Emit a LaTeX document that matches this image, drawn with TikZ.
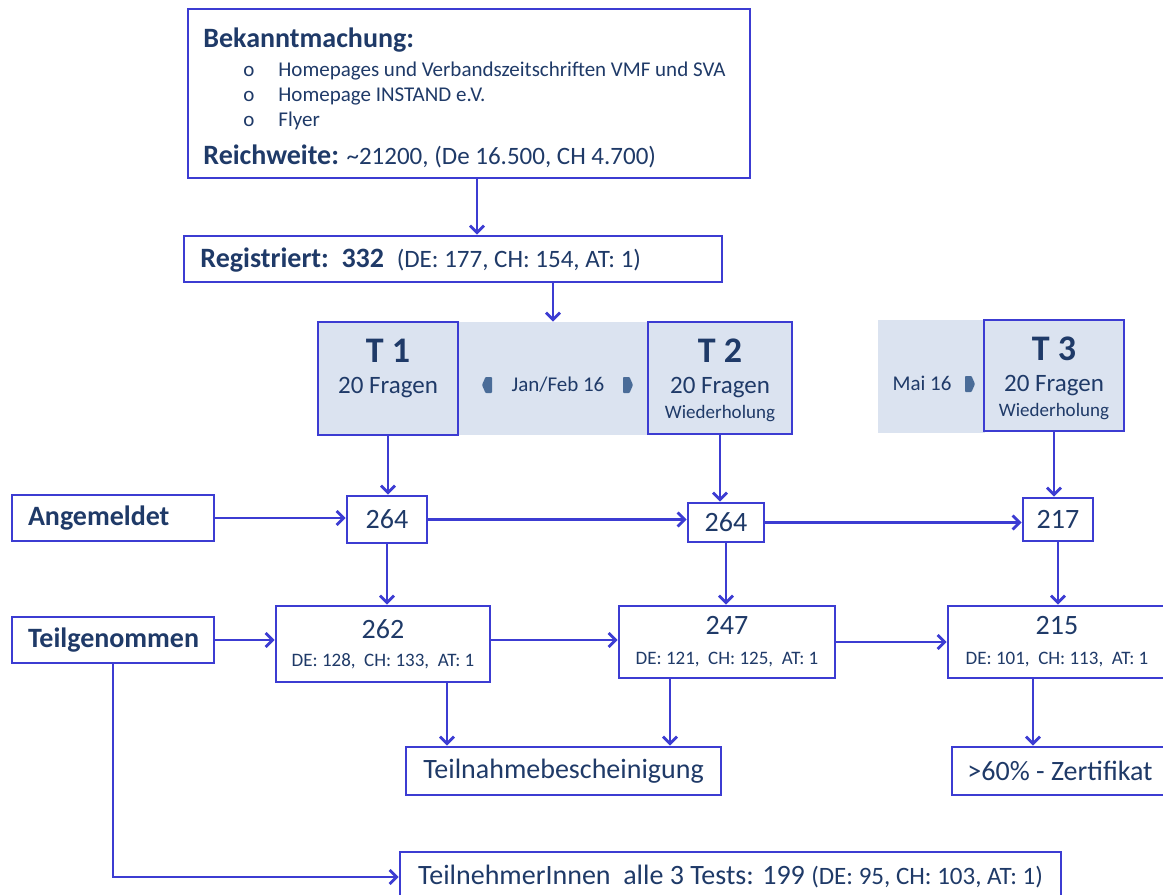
\documentclass[tikz,border=0pt]{standalone}
\usepackage{fontspec}
\setmainfont{Carlito}
\usetikzlibrary{arrows.meta, positioning, calc}
\usepackage{xcolor}
\definecolor{LineBlue}{HTML}{3C3CD2}
\definecolor{NavyTxt}{HTML}{1F3A68}
\definecolor{BandFill}{HTML}{DBE3F0}
\definecolor{ChevBlue}{HTML}{4A6C98}
\newcommand\fsT{\fontsize{18}{21}\selectfont}
\newcommand\fsH{\fontsize{14}{16}\selectfont}
\newcommand\fsM{\fontsize{12.5}{15}\selectfont}
\newcommand\fsS{\fontsize{10.5}{12.5}\selectfont}
\newcommand\fsXS{\fontsize{9.5}{11}\selectfont}
\tikzset{
  fbox/.style={draw=LineBlue, line width=1.4pt, fill=white, text=NavyTxt,
    inner sep=0pt, align=center},
  tbox/.style={fbox, fill=BandFill},
  band/.style={fill=BandFill, inner sep=0pt},
  lbox/.style={fbox, align=left, inner xsep=8pt, text width=85pt,
    minimum height=23pt, font=\fsH\bfseries},
  txt/.style={text=NavyTxt, inner sep=0pt, anchor=base west},
  flow/.style={-{Straight Barb[length=3.5pt, width=7pt]}, line width=1.4pt, draw=LineBlue},
  chev/.style={fill=ChevBlue, rounded corners=0.4pt},
}

\begin{document}
\begin{tikzpicture}[x=0.5pt, y=-0.5pt]
  \useasboundingbox (0,0) rectangle (1163,895);
  \clip (0,0) rectangle (1163,895);

  % Bekanntmachung
  \node[fbox, minimum width=281pt, minimum height=84.5pt] (bekannt) at (469,93.5) {};
  \node[txt, font=\fsH\bfseries] (bktitle) at (203,47) {Bekanntmachung:};
  \foreach \i/\t in {1/Homepages und Verbandszeitschriften VMF und SVA, 2/Homepage INSTAND e.V., 3/Flyer} {
    \node[txt, font=\fsS] (bo\i) at (243,{51+25*\i}) {o};
    \node[txt, font=\fsS] (bk\i) at (278,{51+25*\i}) {\t};
  }
  \node[txt, font=\fsM] (bkreach) at (203,164) {{\fsH\bfseries Reichweite:} \textasciitilde21200, (De 16.500, CH 4.700)};

  % Registriert
  \node[fbox, minimum width=269pt, minimum height=23pt] (reg) at (453,259) {};
  \node[txt, font=\fsH] (regtxt) at (200,267) {\textbf{Registriert:}\ \ \textbf{332}\ \ {\fsM(DE: 177, CH: 154, AT: 1)}};

  % Tests
  \node[band, minimum width=95pt, minimum height=56.5pt] (jan) at (553,378.5) {};
  \node[band, minimum width=53.5pt, minimum height=56.5pt] (mai) at (931.5,376.5) {};
  \node[tbox, minimum width=70pt, minimum height=56.5pt] (t1) at (388,378.5) {};
  \node[tbox, minimum width=72pt, minimum height=56pt] (t2) at (720,378) {};
  \node[tbox, minimum width=70pt, minimum height=55.5pt] (t3) at (1054,375.5) {};
  \foreach \t/\n in {t1/1, t2/2, t3/3} {
    \node[txt, anchor=base, font=\fsT\bfseries] (\t-head) at ([yshift=-21pt]\t.north) {T \n};
    \node[txt, anchor=base, font=\fsM] (\t-q) at ([yshift=-36.5pt]\t.north) {20 Fragen};
  }
  \node[txt, anchor=base, font=\fsXS] (t2-rep) at ([yshift=-49pt]t2.north) {Wiederholung};
  \node[txt, anchor=base, font=\fsXS] (t3-rep) at ([yshift=-49pt]t3.north) {Wiederholung};
  \node[txt, anchor=base, font=\fsS] (janlbl) at (558,391) {Jan/Feb 16};
  \node[txt, anchor=base, font=\fsS] (mailbl) at (922,390) {Mai 16};
  \foreach \cx/\cy/\d in {487/385/-1, 628/385/1, 970/384/1}
    \fill[chev] ({\cx-5*\d},{\cy-8}) -- ({\cx+1.5*\d},{\cy-8}) -- ({\cx+5*\d},\cy)
      -- ({\cx+1.5*\d},{\cy+8}) -- ({\cx-5*\d},{\cy+8}) -- cycle;

  % Angemeldet
  \node[lbox] (ang) at (113,518) {Angemeldet};
  \node[fbox, font=\fsH, minimum width=40pt, minimum height=23.5pt] (n264a) at (387,519.5) {264};
  \node[fbox, font=\fsH, minimum width=38pt, minimum height=19.5pt] (n264b) at (726,522.5) {264};
  \node[fbox, font=\fsH, minimum width=35pt, minimum height=21.5pt] (n217) at (1058,519.5) {217};

  % Teilgenommen
  \node[lbox] (teil) at (113,640) {Teilgenommen};
  \node[fbox, font=\fsH, minimum width=107pt, minimum height=38pt] (n262) at (383,644)
    {262\\[-2pt]{\fsXS DE: 128, \ CH: 133, \ AT: 1}};
  \node[fbox, font=\fsH, minimum width=108pt, minimum height=36pt] (n247) at (727,642)
    {247\\[-1pt]{\fsXS DE: 121, \ CH: 125, \ AT: 1}};
  \node[fbox, font=\fsH, minimum width=109pt, minimum height=36pt] (n215) at (1057,642)
    {215\\[-1pt]{\fsXS DE: 101, \ CH: 113, \ AT: 1}};

  % Ergebnisse
  \node[fbox, font=\fsH, minimum width=157.5pt, minimum height=24pt] (besch) at (563.5,771) {Teilnahmebescheinigung};
  \node[fbox, font=\fsH, minimum width=108pt, minimum height=24pt] (zert) at (1060,771) {>60\% - Zertifikat};
  \node[fbox, font=\fsH, minimum width=330.5pt, minimum height=25pt] (alle) at (730.5,877)
    {TeilnehmerInnen \ alle 3 Tests: 199 {\fsM(DE: 95, CH: 103, AT: 1)}};

  % Pfeile
  \draw[flow] ([xshift=4pt]bekannt.south) -- ([xshift=4pt]bekannt.south |- reg.north);
  \draw[flow] (reg.south -| jan.north) -- (jan.north);
  \draw[flow] (t1.south) -- (t1.south |- n264a.north);
  \draw[flow] (t2.south) -- (t2.south |- n264b.north);
  \draw[flow] (t3.south) -- (t3.south |- n217.north);
  \draw[flow] (ang.east) -- (ang.east -| n264a.west);
  \draw[flow] (n264a.east) -- (n264a.east -| n264b.west);
  \draw[flow] (n264b.east) -- (n264b.east -| n217.west);
  \draw[flow] (n264a.south) -- (n264a.south |- n262.north);
  \draw[flow] (n264b.south) -- (n264b.south |- n247.north);
  \draw[flow] (n217.south) -- (n217.south |- n215.north);
  \draw[flow] (teil.east) -- (teil.east -| n262.west);
  \draw[flow] ([yshift=2pt]n262.east) -- ([yshift=2pt]n262.east -| n247.west);
  \draw[flow] (n247.east) -- (n247.east -| n215.west);
  \draw[flow] ([xshift=32pt]n262.south) -- ([xshift=32pt]n262.south |- besch.north);
  \draw[flow] ([xshift=-28.5pt]n247.south) -- ([xshift=-28.5pt]n247.south |- besch.north);
  \draw[flow] ([xshift=-12pt]n215.south) -- ([xshift=-12pt]n215.south |- zert.north);
  \draw[flow] (teil.south) |- (alle.west);
\end{tikzpicture}
\end{document}
